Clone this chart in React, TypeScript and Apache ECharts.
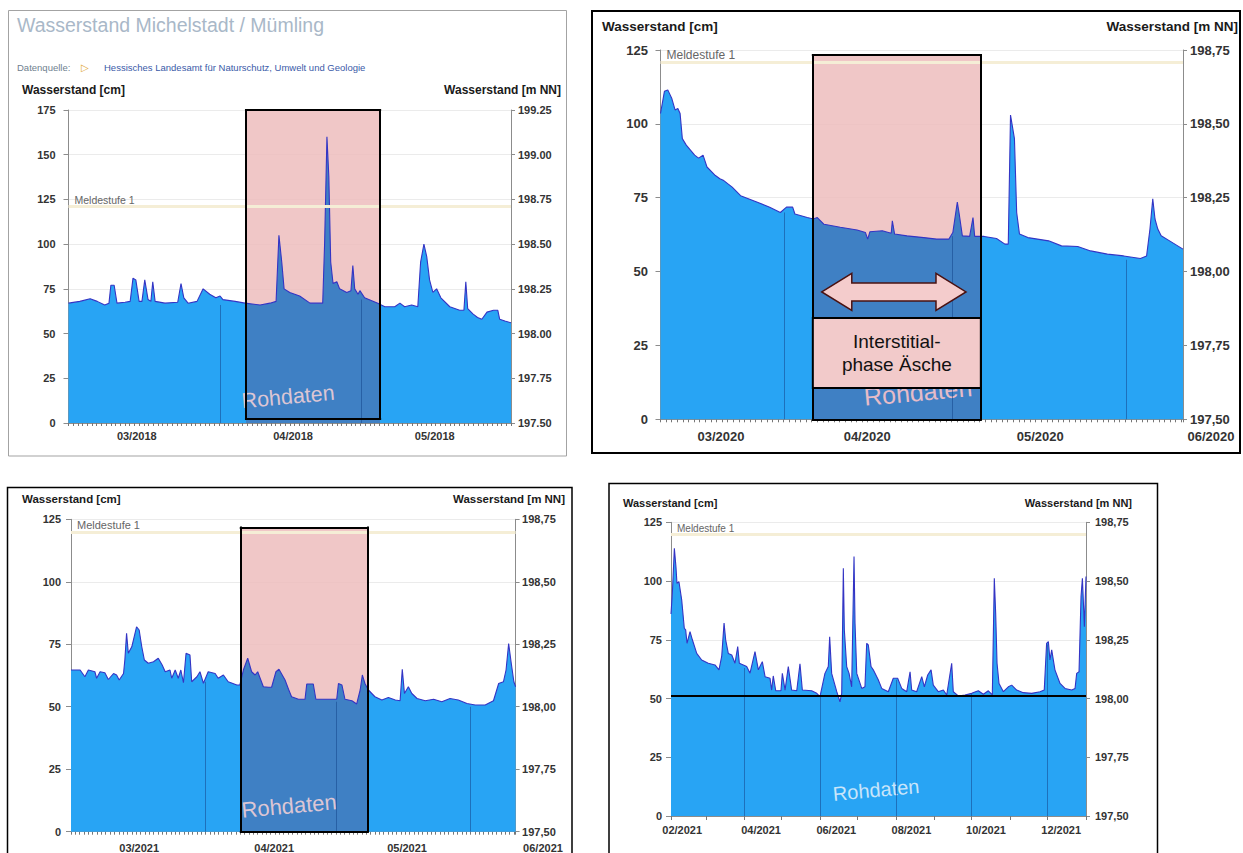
import React, { useEffect, useRef } from "react";
import * as echarts from "echarts";

// ---------- Panel 1: Michelstadt / Mümling 2018 (x = days from 27 Feb 2018) ----------
const P1_LEVEL: number[][] = [
  [0, 67], [2.4, 68], [4.6, 69.5], [6.1, 68], [7.7, 66], [8.6, 67], [9.0, 77], [9.7, 77], [10.3, 67],
  [12.0, 67.5], [13.1, 68], [13.7, 81], [14.3, 80], [15.0, 68], [15.6, 68], [16.2, 80], [16.9, 69],
  [17.5, 68], [17.9, 79], [18.4, 68], [20.5, 67], [23.2, 67.5], [23.9, 78], [24.5, 70], [25.4, 67],
  [27.3, 68], [28.6, 75], [30.0, 72], [31.3, 70], [32.2, 71], [32.8, 69], [35.4, 68], [37.5, 67],
  [40.7, 66], [42.8, 67], [44.1, 68], [44.7, 105], [45.3, 90], [45.8, 75], [47.0, 73], [49.1, 71],
  [51.3, 67], [54.0, 67], [54.4, 100], [54.9, 160], [55.3, 138], [55.7, 90], [56.2, 78], [57.0, 79],
  [57.6, 75], [59.1, 73], [60.0, 74], [60.4, 88], [60.8, 75], [61.5, 72], [61.9, 74], [62.9, 70],
  [65.7, 67], [67.2, 65], [69.3, 65], [70.4, 67], [71.4, 65], [72.9, 66], [74.2, 65], [74.8, 90],
  [75.5, 100], [76.1, 93], [76.7, 80], [77.4, 73], [78.2, 75], [79.1, 70], [81.0, 65], [83.1, 63],
  [84.0, 63], [84.4, 79], [84.8, 64], [85.9, 61], [86.9, 59], [87.8, 58], [88.9, 62], [90.3, 63],
  [91.2, 63], [91.6, 58], [92.7, 57], [94, 56],
];
const P1_END = 94;
const P1_TICK_DAYS = [14.5, 47.7, 77.8];
const P1_TICK_LABELS = ["03/2018", "04/2018", "05/2018"];
const P1_MONTH_DAYS = [32.2, 62.1];
const P1_MONTH_TOPS = [66, 69];
const P1_BOX = [37.7, 66.2, 2.2, 175];
const P1_MELDE = 121;
const P1_CM = [0, 175];
const P1_NN = [197.5, 199.25];

// ---------- Panel 2: 2020 (x = days from 10 Mar 2020) ----------
const P2_LEVEL: number[][] = [
  [0, 103.5], [0.7, 111], [1.3, 111.5], [2.0, 108.7], [2.6, 104.7], [3.1, 105.2], [3.5, 103.5],
  [3.9, 95], [4.6, 92.8], [6.1, 89.4], [6.8, 88.4], [7.6, 89.4], [8.3, 85.4], [9.8, 82.5],
  [10.6, 81.4], [11.3, 80.8], [12.8, 78.6], [14.3, 75.7], [15.8, 74.6], [17.3, 73.5], [19.5, 71.8],
  [21.4, 70], [22.5, 71.8], [23.6, 71.8], [24.0, 69.5], [26.2, 68.3], [27.3, 67.8], [28.0, 68.3],
  [29.2, 66], [32.1, 65], [35.1, 64.1], [36.6, 63.2], [37.0, 61], [37.4, 63.5], [39.6, 63.8],
  [41.2, 63], [41.4, 67.2], [41.8, 62.7], [44.0, 62.1], [47.0, 61.5], [49.3, 61], [51.5, 61],
  [52.2, 63.2], [53.0, 73.5], [53.3, 70], [53.9, 62.1], [55.2, 61.9], [55.8, 68.3], [56.1, 61.9],
  [57.8, 61.9], [60.0, 61.2], [61.5, 59.3], [62.1, 59.3], [62.5, 103], [62.8, 99.6], [63.2, 95],
  [63.6, 70], [64.1, 62.7], [65.6, 61.5], [69.3, 60.4], [71.6, 58.7], [74.5, 58.5], [76.8, 57],
  [79.8, 55.9], [82.7, 55.3], [85.7, 54.4], [86.8, 55.3], [87.4, 64.4], [87.9, 74.6], [88.3, 67.8],
  [88.8, 64.4], [89.4, 62.1], [90.9, 60.4], [93.3, 57.6],
];
const P2_END = 93.3;
const P2_TICK_DAYS = [10.8, 36.9, 67.8, 93.3];
const P2_TICK_LABELS = ["03/2020", "04/2020", "05/2020", "06/2020"];
const P2_MONTH_DAYS = [22.05, 52.05, 83.1];
const P2_MONTH_TOPS = [70, 62, 54];
const P2_BOX = [27.2, 57.2, 0, 123.3];
const P2_NOTE_BOX = [27.2, 57.2, 10.6, 34.3];
const P2_NOTE_TEXT = "Interstitial-\nphase Äsche";
const P2_ARROW = [28.8, 54.55, 43.1];
const P2_MELDE = 121;
const P2_CM = [0, 125];
const P2_NN = [197.5, 198.75];

// ---------- Panel 3: 2021 spring (x = days from 1 Mar 2021) ----------
const P3_LEVEL: number[][] = [
  [0, 64.7], [2.1, 64.7], [3.2, 62], [4.0, 64.7], [5.5, 64], [5.9, 61.4], [6.7, 64], [7.8, 63.6],
  [8.6, 60.9], [9.8, 63.3], [10.5, 62.7], [11.1, 60.7], [12.1, 63.3], [12.4, 68.7], [12.8, 79.4],
  [13.2, 71.4], [14.0, 74], [15.1, 82], [15.7, 80.7], [16.3, 74], [16.9, 68.7], [17.8, 67.4],
  [19.0, 68], [20.1, 69.4], [21.0, 66.7], [21.7, 64], [22.8, 64.7], [23.2, 61.4], [24.0, 64.7],
  [24.7, 61.4], [25.3, 64.7], [25.9, 59.6], [26.5, 71.4], [27.4, 70.7], [27.8, 60], [29.0, 62],
  [29.7, 64], [30.5, 59.4], [31.6, 64], [33.2, 63.3], [33.9, 61.4], [35.1, 62.7], [36.2, 60],
  [38.2, 58.7], [38.9, 58.7], [39.7, 64.7], [40.7, 69.4], [41.6, 64], [42.4, 62.7], [43.0, 64],
  [44.3, 58], [45.5, 57.8], [46.2, 57.8], [47.2, 64], [47.9, 65], [49.3, 60.7], [50.1, 57],
  [50.8, 54], [52.4, 53], [53.9, 53], [54.3, 59.1], [55.8, 59.1], [56.4, 53], [58.5, 53], [61.2, 53],
  [61.6, 59.3], [62.4, 58.7], [63.1, 53], [64.7, 52.4], [65.8, 51.1], [66.6, 56.7], [67.1, 62.7],
  [67.7, 59.3], [68.5, 56.7], [70.0, 54], [71.6, 52.7], [73.1, 53.7], [74.7, 52.7], [75.8, 52.4],
  [76.3, 65], [76.8, 55.3], [77.7, 58], [78.5, 55.3], [79.7, 53.3], [81.6, 52.4], [83.5, 53],
  [85.4, 52], [87.3, 53.3], [89.2, 52.7], [91.2, 51.3], [93.1, 50.7], [95.4, 50.7], [97.3, 52.4],
  [98.5, 59.3], [99.6, 60], [100.2, 64.7], [100.8, 75.3], [101.4, 67.4], [102.0, 60], [102.4, 58],
];
const P3_END = 102.4;
const P3_TICK_DAYS = [15.7, 46.8, 77.4, 102.4];
const P3_TICK_LABELS = ["03/2021", "04/2021", "05/2021", "06/2021"];
const P3_MONTH_DAYS = [31, 61, 92];
const P3_MONTH_TOPS = [60, 52, 50];
const P3_BOX = [39.1, 68.3, 0, 121.7];
const P3_MELDE = 120;
const P3_CM = [0, 125];
const P3_NN = [197.5, 198.75];

// ---------- Panel 4: year 2021 (x = days from 1 Feb 2021) ----------
const P4_LEVEL: number[][] = [
  [0, 86], [1.1, 95], [2.7, 113.9], [4.0, 106], [4.8, 99], [6.4, 99.7], [8.6, 92], [10.7, 79.9],
  [11.8, 79.2], [12.9, 73.5], [15.3, 78.5], [17.2, 75], [20.7, 69.2], [24.7, 66.4], [30.0, 65],
  [35.4, 64.3], [38.6, 62.2], [40.8, 67.9], [42.7, 82.1], [44.0, 75], [46.1, 69.2], [48.9, 68.5],
  [51.5, 65], [53.7, 72.1], [55.0, 65], [58.2, 64.3], [60.9, 63.6], [63.6, 60.8], [67.6, 70],
  [70.3, 62.2], [73.5, 65.7], [75.7, 59.3], [79.7, 58.6], [81.0, 53.6], [82.3, 59.6], [84.3, 53.3],
  [88.5, 53.3], [89.6, 60.7], [91.8, 53.6], [94.4, 63.6], [97.1, 53.6], [101.2, 53.3], [103.8, 64.8],
  [105.7, 53.6], [113.2, 53.3], [117.3, 52.2], [119.9, 50.8], [123.9, 60.7], [126.6, 63.6],
  [127.7, 76.3], [129.3, 60.7], [133.4, 52.9], [136.0, 48.6], [137.4, 52.2], [138.7, 105.4],
  [139.5, 79.2], [141.4, 63.6], [143.3, 60.7], [145.4, 55], [147.3, 110.4], [148.1, 82.1],
  [149.5, 60.7], [153.5, 54.3], [156.1, 55], [157.5, 73.5], [158.8, 72.8], [161, 63.6], [162.8, 62.2],
  [166.8, 58], [169.6, 54.3], [174.9, 52.9], [178.9, 58.6], [182.4, 58.6], [185.7, 54.3],
  [189.7, 52.9], [192.4, 61.4], [193.7, 53.6], [197.7, 52.9], [201.8, 59.3], [203.9, 55], [206.6, 60],
  [209.3, 62.2], [211.1, 55.7], [215.1, 52.9], [219.2, 53.6], [221.9, 51.5], [225.9, 65],
  [227.2, 52.9], [231.2, 51.1], [236.6, 51.5], [242.0, 52.2], [247.3, 53.3], [251.4, 51.8],
  [255.4, 53.3], [258.6, 51.5], [260.2, 101.2], [261.3, 86.3], [262.4, 65], [264, 56.4],
  [267.5, 52.9], [271.5, 55], [274.2, 55.7], [278.2, 53.6], [283.5, 52.5], [290.3, 52.2], [297, 52.9],
  [300.4, 53.6], [302.3, 73.5], [303.7, 74.2], [305, 66.4], [306.4, 70.7], [309, 62.2], [313.1, 56.4],
  [317.1, 54.3], [322.5, 53.6], [325.2, 54.3], [326.5, 60.7], [328.4, 61.4], [330, 93.4],
  [331.1, 101.2], [332.7, 80.6], [334, 101.9],
];
const P4_END = 334;
const P4_TICK_DAYS = [9, 72.5, 133, 193.5, 253.5, 314];
const P4_TICK_LABELS = ["02/2021", "04/2021", "06/2021", "08/2021", "10/2021", "12/2021"];
const P4_MONTH_STARTS = [0, 28, 59, 89, 120, 150, 181, 212, 242, 273, 303, 334];
const P4_MONTH_DAYS = [59, 120, 181, 242, 303];
const P4_MONTH_TOPS = [63, 51, 58, 52, 73];
const P4_BASE_LINE = 51;
const P4_MELDE = 120;
const P4_CM = [0, 125];
const P4_NN = [197.5, 198.75];

// ---------- styling ----------
const FONT = "'Liberation Sans', Arial, sans-serif";
const BLUE = "#28a4f4";
const STEEL = "#3f80c4";
const LINE = "#3434c4";
const PINK = "rgba(237,190,190,0.86)";
const MONTH_LINE = "rgba(20,70,140,0.55)";
const AXIS = "#8c8c8c";

const PANELS = [
  {
    data: P1_LEVEL, end: P1_END, tickDays: P1_TICK_DAYS, tickLabels: P1_TICK_LABELS,
    monthDays: P1_MONTH_DAYS, monthTops: P1_MONTH_TOPS, box: P1_BOX, melde: P1_MELDE,
    cm: P1_CM, nn: P1_NN, comma: false, baseLine: null as number | null, minorTicks: null as number[] | null,
    grid: [68.5, 110, 442.5, 313], tick: 11, xMargin: 7.5, lMargin: 13, rMargin: 7, meldeFont: 10.5, shift: 0,
  },
  {
    data: P2_LEVEL, end: P2_END, tickDays: P2_TICK_DAYS, tickLabels: P2_TICK_LABELS,
    monthDays: P2_MONTH_DAYS, monthTops: P2_MONTH_TOPS, box: P2_BOX, melde: P2_MELDE,
    cm: P2_CM, nn: P2_NN, comma: true, baseLine: null, minorTicks: null,
    grid: [660.5, 50, 522.5, 369.3], tick: 13, xMargin: 11, lMargin: 12.5, rMargin: 7, meldeFont: 12, shift: 28,
  },
  {
    data: P3_LEVEL, end: P3_END, tickDays: P3_TICK_DAYS, tickLabels: P3_TICK_LABELS,
    monthDays: P3_MONTH_DAYS, monthTops: P3_MONTH_TOPS, box: P3_BOX, melde: P3_MELDE,
    cm: P3_CM, nn: P3_NN, comma: true, baseLine: null, minorTicks: null,
    grid: [71, 519.3, 444.6, 312.4], tick: 11, xMargin: 11, lMargin: 10, rMargin: 6.5, meldeFont: 11, shift: 27.4,
  },
  {
    data: P4_LEVEL, end: P4_END, tickDays: P4_TICK_DAYS, tickLabels: P4_TICK_LABELS,
    monthDays: P4_MONTH_DAYS, monthTops: P4_MONTH_TOPS, box: null as number[] | null, melde: P4_MELDE,
    cm: P4_CM, nn: P4_NN, comma: true, baseLine: P4_BASE_LINE, minorTicks: P4_MONTH_STARTS,
    grid: [671, 522.3, 415, 293.7], tick: 11, xMargin: 8.5, lMargin: 9, rMargin: 9, meldeFont: 10, shift: 0,
  },
];

function areaFill(end: number, box: number[] | null): any {
  if (!box) return BLUE;
  const a = box[0] / end;
  const b = box[1] / end;
  return {
    type: "linear", x: 0, y: 0, x2: 1, y2: 0,
    colorStops: [
      { offset: 0, color: BLUE }, { offset: a, color: BLUE }, { offset: a, color: STEEL },
      { offset: b, color: STEEL }, { offset: b, color: BLUE }, { offset: 1, color: BLUE },
    ],
  };
}

function buildOption(): any {
  const grid: any[] = [];
  const xAxis: any[] = [];
  const yAxis: any[] = [];
  const series: any[] = [];
  PANELS.forEach((p, i) => {
    grid.push({ left: p.grid[0], top: p.grid[1], width: p.grid[2], height: p.grid[3], outerBoundsMode: "none", containLabel: false });
    const labelStyle = { fontSize: p.tick, fontWeight: "bold", color: "#333", fontFamily: FONT };
    xAxis.push({
      type: "value", gridIndex: i, min: 0, max: p.end,
      ...(p.minorTicks ? {} : { interval: 1 }),
      axisLine: { show: true, onZero: false, lineStyle: { color: AXIS } },
      axisTick: p.minorTicks
        ? { show: true, length: 4, customValues: p.minorTicks, lineStyle: { color: "#777" } }
        : { show: true, length: 3, lineStyle: { color: "#777" } },
      splitLine: { show: false },
      axisLabel: {
        ...labelStyle, margin: p.xMargin, customValues: p.tickDays,
        formatter: (v: number) => {
          const k = p.tickDays.findIndex((d) => Math.abs(d - v) < 1e-6);
          const t = k >= 0 ? p.tickLabels[k] : "";
          return k === p.tickLabels.length - 1 && p.shift ? `{s|${t}}` : t;
        },
        rich: { s: { ...labelStyle, padding: [0, 0, 0, p.shift * 2] } },
      },
    });
    yAxis.push({
      type: "value", gridIndex: i, position: "left", min: p.cm[0], max: p.cm[1], interval: 25,
      axisLine: { show: true, lineStyle: { color: AXIS } },
      axisTick: { show: true, length: 5, lineStyle: { color: AXIS } },
      splitLine: { show: true, lineStyle: { color: "#ebebeb" } },
      axisLabel: { ...labelStyle, margin: p.lMargin },
    });
    yAxis.push({
      type: "value", gridIndex: i, position: "right", min: p.nn[0], max: p.nn[1], interval: 0.25,
      axisLine: { show: true, lineStyle: { color: AXIS } },
      axisTick: { show: true, length: 4, lineStyle: { color: AXIS } },
      splitLine: { show: false },
      axisLabel: {
        ...labelStyle, margin: p.rMargin,
        formatter: (v: number) => (p.comma ? v.toFixed(2).replace(".", ",") : v.toFixed(2)),
      },
    });

    const lines: any[] = [
      {
        yAxis: p.melde,
        lineStyle: { color: "#f5eed6", width: 3, type: "solid" },
        label: {
          show: true, position: "insideStartTop", formatter: "Meldestufe 1", color: "#666",
          fontSize: p.meldeFont, fontFamily: FONT, distance: [6, 1],
        },
      },
    ];
    p.monthDays.forEach((d, k) => {
      const st = { lineStyle: { color: MONTH_LINE, width: 1, type: "solid" }, label: { show: false } };
      lines.push([{ coord: [d, 0], ...st }, { coord: [d, p.monthTops[k]], ...st }]);
    });
    if (p.box) {
      const [x0, x1, y0, y1] = p.box;
      const st = { lineStyle: { color: "#000", width: 2, type: "solid", cap: "square" }, label: { show: false } };
      lines.push([{ coord: [x0, y0], ...st }, { coord: [x0, y1], ...st }]);
      lines.push([{ coord: [x1, y0], ...st }, { coord: [x1, y1], ...st }]);
      lines.push([{ coord: [x0, y1], ...st }, { coord: [x1, y1], ...st }]);
      lines.push([{ coord: [x0, y0], ...st }, { coord: [x1, y0], ...st }]);
    }
    if (p.baseLine != null) {
      lines.push({ yAxis: p.baseLine, lineStyle: { color: "#000", width: 2, type: "solid" }, label: { show: false } });
    }

    series.push({
      type: "line", xAxisIndex: i, yAxisIndex: 2 * i, data: p.data,
      showSymbol: false, symbol: "none", silent: true, animation: false,
      lineStyle: { color: LINE, width: 1.1 },
      areaStyle: { color: areaFill(p.end, p.box), opacity: 1 },
      markArea: p.box
        ? {
            silent: true, animation: false, itemStyle: { color: PINK, borderWidth: 0 }, label: { show: false },
            data: [[{ xAxis: p.box[0], yAxis: p.box[2] }, { xAxis: p.box[1], yAxis: p.box[3] }]],
          }
        : undefined,
      markLine: { silent: true, animation: false, symbol: "none", label: { show: false }, lineStyle: { type: "solid" }, data: lines },
    });
  });
  return { animation: false, backgroundColor: "#fff", grid, xAxis, yAxis, series };
}

function txt(x: number, y: number, text: string, size: number, fill: string, opts: any = {}): any {
  const align = opts.align || "left";
  return {
    type: "text", x, y, z: opts.z ?? 20, rotation: opts.rotation || 0, silent: true,
    style: {
      text, fill, fontSize: size, fontFamily: opts.family || FONT, fontWeight: opts.weight || "normal",
      align, textAlign: align, verticalAlign: "middle", textVerticalAlign: "middle",
      lineHeight: opts.lineHeight,
    },
  };
}

function buildGraphics(chart: any): any[] {
  const g: any[] = [];
  // panel frames
  g.push({ type: "rect", z: 20, silent: true, shape: { x: 8.5, y: 10.5, width: 558, height: 445.5 }, style: { fill: "none", stroke: "#a3a3a3", lineWidth: 1 } });
  g.push({ type: "rect", z: 20, silent: true, shape: { x: 592, y: 11, width: 648, height: 442 }, style: { fill: "none", stroke: "#000", lineWidth: 2 } });
  g.push({ type: "rect", z: 20, silent: true, shape: { x: 7.5, y: 487.5, width: 564.5, height: 400 }, style: { fill: "none", stroke: "#000", lineWidth: 1.5 } });
  g.push({ type: "rect", z: 20, silent: true, shape: { x: 609, y: 483.5, width: 548.5, height: 400 }, style: { fill: "none", stroke: "#000", lineWidth: 1.5 } });

  // panel 1 header
  g.push(txt(17, 25, "Wasserstand Michelstadt / Mümling", 19.5, "#a9b8c8"));
  g.push(txt(17, 67, "Datenquelle:", 9.5, "#6f7f8f"));
  g.push(txt(81, 67, "▷", 10, "#e2a83a", { family: "'DejaVu Sans', sans-serif" }));
  g.push(txt(104, 67, "Hessisches Landesamt für Naturschutz, Umwelt und Geologie", 9.5, "#3a5aa8"));

  // axis titles
  const heads = [
    { l: 22, r: 561, y: 90, s: 12 },
    { l: 602, r: 1238, y: 26, s: 13.5 },
    { l: 22, r: 565, y: 499, s: 11.5 },
    { l: 623, r: 1132, y: 503, s: 11 },
  ];
  heads.forEach((h) => {
    g.push(txt(h.l, h.y, "Wasserstand [cm]", h.s, "#1a1a1a", { weight: "bold" }));
    g.push(txt(h.r, h.y, "Wasserstand [m NN]", h.s, "#1a1a1a", { weight: "bold", align: "right" }));
  });

  // "Rohdaten" watermarks
  const marks = [
    { x: 288, y: 397, s: 21.5, c: "#dcc6d4" },
    { x: 918, y: 392, s: 25, c: "#e6bcc8" },
    { x: 289, y: 806, s: 22, c: "#dcc6d4" },
    { x: 876, y: 790, s: 20, c: "#c9e5fa" },
  ];
  marks.forEach((m) => g.push(txt(m.x, m.y, "Rohdaten", m.s, m.c, { align: "center", rotation: 0.09, z: 4 })));

  // panel 2 annotation: label box and double arrow, placed via the chart's own scales
  const cp = (x: number, y: number) => chart.convertToPixel({ seriesIndex: 1 }, [x, y]) as number[];
  const a = cp(P2_NOTE_BOX[0], P2_NOTE_BOX[3]);
  const b = cp(P2_NOTE_BOX[1], P2_NOTE_BOX[2]);
  g.push({
    type: "rect", z: 30, silent: true,
    shape: { x: a[0], y: a[1], width: b[0] - a[0], height: b[1] - a[1] },
    style: { fill: "#f2caca", stroke: "#000", lineWidth: 2 },
  });
  g.push(txt((a[0] + b[0]) / 2, (a[1] + b[1]) / 2, P2_NOTE_TEXT, 19, "#111", { align: "center", z: 31, lineHeight: 23 }));

  const l = cp(P2_ARROW[0], P2_ARROW[2]);
  const r = cp(P2_ARROW[1], P2_ARROW[2]);
  const cy = l[1];
  const head = 30, hh = 18.5, sh = 9;
  g.push({
    type: "polygon", z: 30, silent: true,
    shape: {
      points: [
        [l[0], cy], [l[0] + head, cy - hh], [l[0] + head, cy - sh], [r[0] - head, cy - sh], [r[0] - head, cy - hh],
        [r[0], cy], [r[0] - head, cy + hh], [r[0] - head, cy + sh], [l[0] + head, cy + sh], [l[0] + head, cy + hh],
      ],
    },
    style: { fill: "#f4cccc", stroke: "#4a1212", lineWidth: 1.5 },
  });
  return g;
}

export default function App() {
  const ref = useRef<HTMLDivElement>(null);
  useEffect(() => {
    const el = ref.current;
    if (!el) return;
    const chart = echarts.init(el, null, { renderer: "svg" });
    chart.setOption(buildOption());
    chart.setOption({ graphic: { elements: buildGraphics(chart) } });
    return () => chart.dispose();
  }, []);
  return (
    <div
      ref={ref}
      style={{ position: "fixed", left: 0, top: 0, width: 1243, height: 853, background: "#fff" }}
    />
  );
}
